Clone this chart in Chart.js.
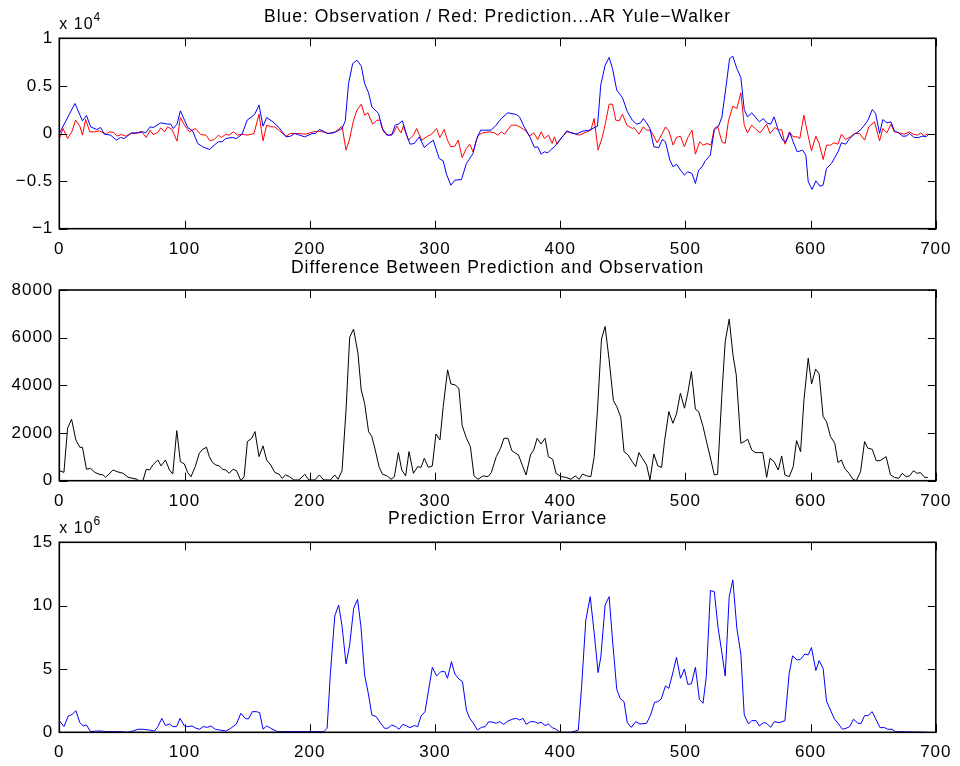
<!DOCTYPE html>
<html>
<head>
<meta charset="utf-8">
<script src="https://cdn.jsdelivr.net/npm/chart.js@4.4.0/dist/chart.umd.min.js"></script>
<style>
  body { margin: 0; background: #fff; width: 960px; height: 766px; overflow: hidden; }
  canvas { position: absolute; left: 0; }
</style>
</head>
<body>
<canvas id="obs" width="960" height="258" style="top:0"></canvas>
<canvas id="diff" width="960" height="253" style="top:255px"></canvas>
<canvas id="vari" width="960" height="261" style="top:505px"></canvas>
<script>
// top: observation (blue) and prediction (red), raw units (axis shown x 10^4)
const obsX = [0,12.5,18.5,21.7,25,30,33,36,41,45.6,48.8,52,57.5,63,67,69,72.6,75,81,86.6,89,91,94,96.7,100,102.5,106.5,110.5,114.5,120,123.7,127,130,133,138,141.5,146,150,156,159.5,162.7,165.6,170.6,175.4,181,184.7,188,191,196,202,204.5,207.7,211,
  213.9,219.2,225.8,228.4,231,234.3,237.7,241.2,243.8,247,249.6,255,257.6,261.5,265.5,268.2,270.8,274,277.5,280.1,283.5,287.4,291.5,295.2,298.6,303.4,306.6,309.2,312.7,315.9,321.2,325.1,330.4,333,336.5,339.7,345,348.9,352.9,358.2,364.9,367.5,371,375.5,379.5,382.1,384.8,387.4,390.1,392.7,395.4,400.7,405.4,408.6,412.6,417.9,423.2,429.8,432.4,435.9,439.1,441.8,445.2,449.7,453.7,457.6,
  461.1,464.2,466.4,469,471.7,474.8,478.8,481.5,484.1,487.6,490.2,492.9,496.1,499.2,501.9,505.3,508,510.6,513.3,515.9,519.9,523.1,526.5,529.2,532.6,535.3,537.9,541.1,544.3,547,549.6,553,555.7,559.1,562.3,564.9,568.1,570.8,574.2,577.7,580.3,583.5,586.1,589.3,593.6,596.2,598.1,601.2,604.2,607.4,610,612.7,616.6,621.9,624.6,628,631.2,635.1,639.1,642.4,645.8,649.3,651.9,655.1,657.7,660.9,664.2,666.9,670.2,673.6,676.2,678.9,682.9,686.3,689.4,692.2,694.3];
const obsY = [0,3150,1330,1900,700,420,630,-70,-175,-700,-420,-525,70,70,175,70,700,630,1120,980,980,525,980,2380,1400,630,280,-1050,-1400,-1680,-1225,-875,-875,-525,-420,-525,-70,1400,2000,2975,770,1680,1225,630,-350,-280,0,-140,-350,0,0,420,245,
  0,70,525,1330,5250,7350,7700,7070,5250,4270,2800,2100,630,-175,-175,875,980,1330,-175,-1120,-1050,-350,-1470,-1050,-700,-2625,-2870,-4270,-5425,-4900,-4830,-3150,-2100,-700,350,350,350,875,1575,2170,2000,1750,770,-280,-1470,-1400,-2170,-1925,-2030,-1680,-1400,-525,280,70,-70,245,350,770,5075,7175,7980,6825,4550,3780,2275,1400,
  980,1120,1575,1120,525,-1400,-1470,-630,-875,-2800,-3500,-3220,-3850,-4375,-4025,-4200,-5250,-3850,-3500,-2870,-2275,350,770,1750,5075,7875,8120,6825,5880,2520,1750,2170,1750,1225,1575,1120,980,1750,350,-700,-875,70,-875,-1925,-1750,-2275,-5075,-5880,-4970,-5530,-5425,-3675,-3150,-1925,-980,-1120,-525,-70,280,770,1400,2520,2100,0,1470,1120,1225,280,70,-280,-280,0,-420,-420,-280,-350,-70];

const predX = [0.5,3,6.6,10,13,16.4,18.5,21,24.4,28,32,35,37.6,40,43.5,46,49.5,53,57.5,61.5,65.5,69.4,72.6,75,78.7,81,84,86.6,90,94,96.7,100,104,108.6,113,117,120.5,123.7,127,129.6,133,135.7,139,142.3,146,150,155.5,159.5,162.7,165.6,169,172,176,181,184.7,191,196.6,203,208.5,
  215.2,220.5,225.8,229,231.6,235,237.7,241.2,243.8,246.5,250.2,253.6,256.3,258.9,262.9,266.8,269.5,272.9,274.8,278.8,282.8,285.4,289.4,293.3,297.3,301.3,303.9,307.4,310,312.7,315.9,318.6,321.7,325.1,327.8,330.4,334.4,338.3,343.6,347.6,350.2,352.9,355.6,360.9,364.9,368.6,372.6,375.5,378.9,382.1,384.8,387.4,390.7,393.6,395.4,397.5,401.2,405.4,409.9,415.2,421.3,424.5,427.1,430.3,433.7,436.4,439.1,441.8,444.4,447.1,449.7,453.2,457.7,
  459,463,466.4,469,472.2,477.5,481.5,484.1,486.8,490.2,492.9,496.1,499.2,501.9,505.3,508,511.4,514.1,517.3,520.4,523.1,525.7,529.2,531.8,534.4,537.9,541.1,544.3,547,549.6,553,555.7,559.7,564.9,567.6,571.6,574.2,576.9,579.5,583,586.1,589.3,591.4,594.6,598.1,600.7,604.2,606.8,610,612.7,615.9,618.5,621.9,624.6,628,631.7,635.1,639.1,643.1,646.5,651,655.1,657.7,660.9,664.2,666.9,670.8,674.8,678.9,682.1,685.5,688.1,690.8,693.5];
const predY = [-420,525,-525,175,1400,770,-175,1470,175,175,280,70,-70,175,105,-280,-105,-280,0,0,245,-420,350,-105,105,600,175,700,420,-800,1680,875,175,525,-105,-175,-770,-630,-175,-420,-70,-175,175,-175,-70,-175,0,2030,-770,875,700,700,280,-280,0,0,-70,175,245,
  0,175,770,-1750,-700,1400,2450,3080,1925,2170,980,1400,1400,175,-175,0,770,70,770,-700,-175,525,-700,-350,-70,525,-420,420,-700,-1400,-1330,-700,-2520,-1575,-1120,-1925,-175,70,175,70,-175,175,-70,875,875,630,280,-280,70,-630,175,-525,-175,-1050,-350,-1120,-420,175,70,-175,175,350,1575,-1750,-350,1225,3080,3080,1400,1330,2030,875,525,
  630,-70,700,350,350,-980,0,700,280,-1225,-420,-280,-1400,-420,350,-2170,-875,-1225,-1050,-1225,525,770,-875,-1050,1330,2870,2625,4270,875,70,875,525,70,980,0,630,350,420,-1120,175,-350,-350,-525,1925,-280,-1820,-280,-1050,-2730,-1225,-1225,-980,-1120,-70,-630,-350,0,0,-700,700,1225,-770,525,70,980,175,70,-70,175,-70,-175,70,-280,0];

// middle: absolute difference between prediction and observation
const diffX = [0,3.7,6.6,9.8,13.2,16.4,18.5,21.7,24.9,28.4,31.8,35,37,39.7,43,46,51,55,58.8,61.5,63.6,66.8,69.4,72,74.7,78.7,81.3,84.8,88,90.6,93.8,96.7,99.9,102.5,105.2,108.6,111.8,114.5,117.6,119.8,122.4,125,127.7,130.4,133,135.7,138.8,141.5,145,147.6,150.2,153.7,156.3,159.5,162.7,165.6,168.8,172.2,175.4,178,180.7,183.9,187.3,191.3,196,199.3,204,207.7,211.2,
  216.5,220,222.6,225.8,229,231.9,235,238.5,241.1,243.8,247,249.6,252.3,255.5,258.1,261.5,265,267.6,270.8,273.5,276.6,279.3,282.8,286.2,288.9,291.5,294.7,297.9,300.8,304,306.6,310.1,312.7,316,319.1,321.8,325.2,328.3,331.2,334.4,338.4,342.4,345,349,352.4,355.1,358.3,361.4,363.6,366.7,370.2,372.8,376.3,378.9,381.6,384.7,387.9,390.6,394,396.7,400.7,404.6,408.6,412,415.2,417.9,421.3,424.5,427.2,429.8,433,435.9,439.1,442.5,445.2,448.4,451,454.2,457.6,460.3,
  462.9,465.6,469,471.7,474.8,478,481,483.3,486.8,490,492.9,496,499.3,501.9,504.8,508,510.6,514.1,517.2,520.4,523.1,525.7,529.2,531.8,535,538,540.6,544.3,547,549.8,553,555.7,558.3,561.8,564.9,567.6,570.8,574.2,576.9,579.5,583,586.1,588.8,592,594.7,598.1,600.8,604,606.8,610,612.7,615.9,619.3,621.9,624.6,627.2,630.7,633.8,636.5,639.9,643.1,645.8,649.2,652.4,655.5,660.3,663.8,667,670.4,673.1,676.3,679,682.2,684.8,687.8,691,693.6];
const diffY = [420,350,2200,2580,1710,1400,1400,480,520,350,270,240,140,280,450,380,310,140,100,70,0,0,480,450,660,870,620,870,450,280,2100,800,700,340,170,590,1150,1320,1400,1010,760,660,620,480,450,310,480,420,0,170,1640,1780,2060,1010,1460,870,660,340,280,100,240,170,30,30,270,30,30,240,30,
  30,240,60,420,2970,6020,6360,5350,3810,3250,2060,1850,1290,560,270,210,60,170,1180,450,200,1220,310,590,560,940,560,620,1960,1710,3110,4650,4060,4020,3880,2300,1780,1430,200,60,200,170,340,1010,1360,1780,1780,1260,1180,1080,590,240,1080,1290,1780,1540,1780,1010,900,310,170,140,60,200,60,280,200,170,1010,2970,5940,6470,5070,3360,3110,2660,1220,1080,800,590,
  1180,940,660,30,1120,620,560,1640,2900,2410,2800,3670,3040,3670,4580,3000,2900,2270,1570,870,240,270,3670,5840,6780,5280,4440,1570,1640,1740,1290,1180,1180,1180,140,940,800,450,1040,240,170,590,1680,1220,3390,5140,4060,4680,4480,2690,2480,1850,1570,760,870,520,310,60,0,380,1640,1360,1320,840,840,1010,240,140,100,310,170,200,420,310,340,140,140];

// bottom: prediction error variance, in units of 10^6
const varX = [0,3.7,7.2,9.8,13.2,16.4,19.1,21.7,24.9,29.7,33.7,37.6,43,48.2,54.8,58.8,62.8,66.8,72,76,78.7,81.9,84.8,88,90.6,93.8,96.4,99.9,102.5,106,109.2,111.8,115,118.4,121.1,124.5,128.2,133,137,141.5,145,148.4,151,154.2,157.4,160,162.7,165.6,168.8,174.1,180.7,191.3,201.9,211.2,
  213.9,216.5,220,223.1,225.8,229,231.9,235.1,238.2,240.9,243.8,247,249.6,253.1,256.3,259.7,262.4,265.5,268.7,271.4,274.3,277.4,280.1,283.5,286.2,288.9,292.1,294.7,297.9,301.3,304.7,307.9,310,313.2,315.9,319.1,322,325.1,327.8,330.4,333.9,337.1,340.2,342.9,346.4,349,351.7,354.9,358.3,362.3,365,367.6,370.3,372.9,376.3,379.5,382.1,384.8,388,390.6,393.6,396.7,399.9,408.6,414.5,417.1,420.5,424,427.2,430.3,432.5,435.9,439.1,441.8,445.2,447.8,451,453.6,456.8,460.3,
  463.7,469,472.2,475.4,478,480.7,484.1,486.8,490.2,492.9,496.1,499.2,501.9,504.8,508,511.2,514.1,516.7,520,523.1,526,529.2,531.8,535,537.9,541.1,544.3,547,550.4,553,556.5,559.1,562.3,564.9,568.1,571,575,579.5,582.9,585.6,589.3,592,595.4,598.1,600.7,604.2,606.8,610,612.7,615.8,619.2,621.9,625.4,628.5,631.2,634.3,637.8,640.4,643.1,645.8,649.2,652.4,655.5,659,661.6,665,667.7,693.5];
const varY = [0.92,0.45,1.29,1.37,1.71,0.76,0.5,0.58,0.05,0.1,0.1,0.05,0.05,0.05,0,0.1,0.24,0.24,0.18,0.1,0.45,1.1,0.53,0.66,0.45,0.45,1.1,0.5,0.45,0.5,0.32,0.24,0.45,0.39,0.5,0.24,0.18,0.1,0.32,0.66,1.5,1.1,1.05,1.63,1.63,1.55,0.24,0.5,0.32,0.05,0.05,0.05,0.05,0.05,
  0.32,4.66,9.18,10.05,8.4,5.4,6.9,9.79,10.5,8.34,4.53,2.95,1.37,1.24,0.76,0.32,0.32,0.58,0.45,0.24,0.63,0.5,0.37,0.53,0.45,1.29,1.63,3.21,5.13,4.45,4.79,4.79,4.26,5.58,4.6,4.21,4.0,1.76,1.1,0.76,0.18,0.39,0.45,0.84,0.79,0.71,0.84,0.63,0.89,1.05,1.1,0.97,1.1,0.63,0.84,0.84,0.71,0.79,0.53,0.66,0.37,0.24,0,0,0.18,3.6,8.87,10.71,7.82,4.71,5.97,10.05,10.71,7.29,3.4,2.68,2.42,0.76,0.39,0.84,
  0.66,0.71,1.37,2.37,2.42,2.63,3.66,3.47,4.79,5.92,4.26,5.0,3.79,3.82,5.13,2.6,2.29,4.4,11.19,11.1,8.34,6.24,4.45,10.71,12.03,8.21,6.18,1.37,0.66,0.92,0.92,0.5,0.76,0.71,0.39,0.84,0.76,0.92,4.66,6.03,5.71,5.76,6.18,6.11,6.69,4.87,5.66,5.05,2.47,1.76,1.03,0.71,0.24,0.32,0.45,1.03,0.71,0.71,1.32,1.32,1.63,0.97,0.37,0.37,0.24,0.24,0.05,0];

const xTicks = [0, 100, 200, 300, 400, 500, 600, 700];

Chart.defaults.font.family = "'Liberation Sans', Arial, Helvetica, sans-serif";
Chart.defaults.font.size = 17;
Chart.defaults.color = '#000';

function pts(xs, ys) {
  return xs.map((x, i) => ({ x: x, y: ys[i] }));
}

function minus(s) {
  return String(s).replace('-', '\u2212');
}

// MATLAB style box with inward ticks and the "x 10^n" exponent label
const boxAxes = {
  id: 'boxAxes',
  beforeDraw(chart) {
    chart.ctx.letterSpacing = '1px';
  },
  afterDraw(chart, args, opts) {
    const ctx = chart.ctx;
    const a = chart.chartArea;
    const xs = chart.scales.x, ys = chart.scales.y;
    const tl = 8;
    ctx.save();
    ctx.strokeStyle = '#000';
    ctx.lineWidth = 1;
    ctx.beginPath();
    xs.ticks.forEach(t => {
      const px = Math.round(xs.getPixelForValue(t.value)) + 0.5;
      ctx.moveTo(px, a.bottom); ctx.lineTo(px, a.bottom - tl);
      ctx.moveTo(px, a.top); ctx.lineTo(px, a.top + tl);
    });
    ys.ticks.forEach(t => {
      const py = Math.round(ys.getPixelForValue(t.value)) + 0.5;
      ctx.moveTo(a.left, py); ctx.lineTo(a.left + tl, py);
      ctx.moveTo(a.right, py); ctx.lineTo(a.right - tl, py);
    });
    ctx.stroke();
    ctx.lineWidth = 1.6;
    ctx.strokeRect(a.left, a.top, a.right - a.left, a.bottom - a.top);
    if (opts.exp) {
      ctx.fillStyle = '#000';
      ctx.textBaseline = 'alphabetic';
      ctx.textAlign = 'left';
      ctx.font = "16px 'Liberation Sans', Arial, sans-serif";
      const base = a.top - 9.5;
      ctx.fillText('x 10', a.left, base);
      const w = ctx.measureText('x 10').width;
      ctx.font = "12px 'Liberation Sans', Arial, sans-serif";
      ctx.fillText(opts.exp, a.left + w, base - 8);
    }
    ctx.restore();
  }
};

function makeChart(id, datasets, title, titlePad, xHeight, yOpts, exp) {
  return new Chart(document.getElementById(id), {
    type: 'line',
    data: { datasets: datasets },
    options: {
      responsive: false,
      animation: false,
      parsing: false,
      normalized: true,
      layout: { padding: { left: 0, right: 20, top: 0, bottom: 0 } },
      elements: { point: { radius: 0 }, line: { tension: 0, borderWidth: 1 } },
      scales: {
        x: {
          type: 'linear', min: 0, max: 700,
          afterFit: s => { s.height = xHeight; },
          afterBuildTicks: s => { s.ticks = xTicks.map(v => ({ value: v })); },
          grid: { display: false, drawTicks: false },
          border: { display: false },
          ticks: { padding: 10, autoSkip: false, maxRotation: 0, callback: v => String(v) }
        },
        y: Object.assign({
          type: 'linear',
          afterFit: s => { s.width = 59.3; },
          grid: { display: false, drawTicks: false },
          border: { display: false }
        }, yOpts)
      },
      plugins: {
        legend: { display: false },
        tooltip: { enabled: false },
        title: {
          display: true, text: title, fullSize: false,
          font: { size: 17.5, weight: 'normal' }, color: '#000',
          padding: titlePad
        },
        boxAxes: { exp: exp }
      }
    },
    plugins: [boxAxes]
  });
}

makeChart('obs', [
  { data: pts(obsX, obsY), borderColor: '#0000ff' },
  { data: pts(predX, predY), borderColor: '#ff0000' }
], 'Blue: Observation / Red: Prediction...AR Yule\u2212Walker', { top: 6.4, bottom: 10.9 }, 29.3, {
  min: -10000, max: 10000,
  ticks: { stepSize: 5000, padding: 6, callback: v => minus(v / 10000) }
}, '4');

makeChart('diff', [
  { data: pts(diffX, diffY), borderColor: '#000000' }
], 'Difference Between Prediction and Observation', { top: 2.7, bottom: 11.3 }, 27.3, {
  min: 0, max: 8000,
  ticks: { stepSize: 2000, padding: 6, callback: v => String(v) }
}, null);

makeChart('vari', [
  { data: pts(varX, varY), borderColor: '#0000ff' }
], 'Prediction Error Variance', { top: 3.7, bottom: 12.6 }, 33.7, {
  min: 0, max: 15,
  ticks: { stepSize: 5, padding: 6, callback: v => String(v) }
}, '6');
</script>
</body>
</html>
